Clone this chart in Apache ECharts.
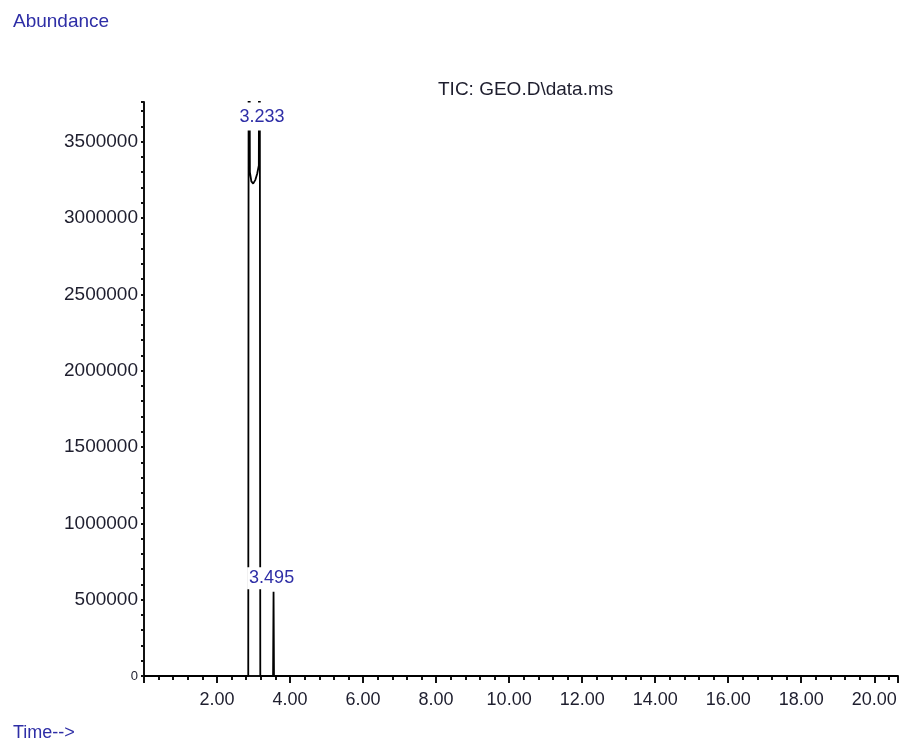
<!DOCTYPE html>
<html>
<head>
<meta charset="utf-8">
<style>
  html, body { margin: 0; padding: 0; background: #ffffff; }
  #chart { width: 901px; height: 740px; }
</style>
<script src="https://cdn.jsdelivr.net/npm/echarts@6/dist/echarts.min.js"></script>
</head>
<body>
<div id="chart"></div>
<script>
// ---- data ----
const titleText = 'TIC: GEO.D\\data.ms';
const yAxisName = 'Abundance';
const xAxisName = 'Time-->';

// retention time (min) and abundance of the TIC trace (off-scale peaks exceed the axis max)
const traceTimes = [0.0, 2.855, 2.87, 2.90, 2.94, 2.99, 3.05, 3.10, 3.145, 3.165, 3.175, 3.185, 3.535, 3.548, 3.56, 20.65];
const traceAbundance = [0, 0, 6000000, 3300000, 3240000, 3225000, 3250000, 3290000, 3345000, 6000000, 3000000, 0, 0, 552000, 0, 0];

// peak annotations
const peakLabels = ['3.233', '3.495'];
const peakTimes = [3.233, 3.495];
const peakApex = [6000000, 552000];

// axis settings
const xMin = 0, xMax = 20.65, xStep = 2;
const yMin = 0, yMax = 3760000, yStep = 500000;

const chart = echarts.init(document.getElementById('chart'), null, { renderer: 'canvas' });

const textColor = '#1e1e2e';
const blue = '#2e2ea6';
const fontFam = '"Liberation Sans", Arial, sans-serif';

const traceData = traceTimes.map((t, i) => [t, traceAbundance[i]]);
const labelData = peakTimes.map((t, i) => {
  const offScale = peakApex[i] > yMax;
  return {
    value: [t, Math.min(peakApex[i], yMax)],
    label: offScale
      ? { formatter: peakLabels[i], position: 'bottom', distance: 0, padding: [6, 2, 4, 2] }
      : { formatter: peakLabels[i], position: 'top', distance: 2, padding: [2, 2, 2, 2] }
  };
});

chart.setOption({
  animation: false,
  backgroundColor: '#ffffff',
  title: [
    { text: yAxisName, left: 8, top: 7, padding: 5, textStyle: { color: blue, fontSize: 19, fontWeight: 'normal', fontFamily: fontFam } },
    { text: titleText, left: 433, top: 75, padding: 5, textStyle: { color: textColor, fontSize: 19, fontWeight: 'normal', fontFamily: fontFam } },
    { text: xAxisName, left: 8, top: 719, padding: 5, textStyle: { color: blue, fontSize: 18, fontWeight: 'normal', fontFamily: fontFam } }
  ],
  grid: { left: 144, right: 1, top: 102, bottom: 64, containLabel: false },
  xAxis: {
    type: 'value',
    min: xMin, max: xMax, interval: xStep,
    splitLine: { show: false },
    axisLine: { show: true, onZero: false, lineStyle: { color: '#111', width: 2 } },
    axisTick: { show: true, length: 7, lineStyle: { color: '#111', width: 2 } },
    minorTick: { show: true, splitNumber: 5, length: 4, lineStyle: { color: '#111', width: 2 } },
    axisLabel: {
      margin: 15, color: textColor, fontSize: 18, fontFamily: fontFam,
      formatter: v => (v > 0 && Math.abs(v / xStep - Math.round(v / xStep)) < 1e-6) ? v.toFixed(2) : ''
    }
  },
  yAxis: {
    type: 'value',
    min: yMin, max: yMax, interval: yStep,
    splitLine: { show: false },
    axisLine: { show: true, onZero: false, lineStyle: { color: '#111', width: 2 } },
    axisTick: { show: true, length: 3, lineStyle: { color: '#111', width: 2 } },
    minorTick: { show: true, splitNumber: 5, length: 3, lineStyle: { color: '#111', width: 2 } },
    axisLabel: {
      margin: 6, color: textColor, fontSize: 19, fontFamily: fontFam,
      formatter: v => {
        if (v === 0) return '{s|0}';
        return (v % yStep === 0) ? String(v) : '';
      },
      rich: { s: { fontSize: 13, color: textColor, fontFamily: fontFam } }
    }
  },
  series: [
    {
      type: 'line',
      data: traceData,
      showSymbol: false,
      clip: true,
      z: 2,
      lineStyle: { color: '#000000', width: 1.8 }
    },
    {
      type: 'scatter',
      data: labelData,
      symbolSize: 1,
      clip: false,
      z: 5,
      itemStyle: { color: 'rgba(255,255,255,0)', opacity: 1 },
      label: {
        show: true,
        color: blue,
        fontSize: 18,
        fontFamily: fontFam,
        opacity: 1,
        backgroundColor: '#ffffff'
      }
    }
  ]
});
</script>
</body>
</html>
